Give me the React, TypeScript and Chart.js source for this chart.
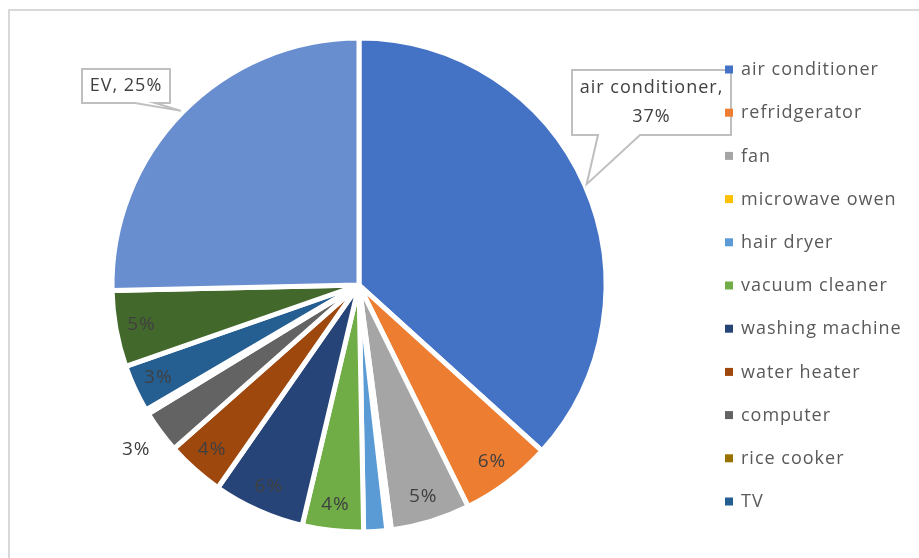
import React, { useEffect, useRef } from "react";
import { Chart, registerables } from "chart.js";

Chart.register(...registerables);

const categories = [
  "air conditioner",
  "refridgerator",
  "fan",
  "microwave owen",
  "hair dryer",
  "vacuum cleaner",
  "washing machine",
  "water heater",
  "computer",
  "rice cooker",
  "TV",
  "other",
  "EV",
];
const values = [36.8, 6, 5.2, 0.3, 1.5, 4, 6, 3.8, 2.8, 0.3, 3.1, 5, 25.4];
const colors = [
  "#4472C4",
  "#ED7D31",
  "#A5A5A5",
  "#FFC000",
  "#5B9BD5",
  "#70AD47",
  "#264478",
  "#9E480E",
  "#636363",
  "#997300",
  "#255E91",
  "#43682B",
  "#698ED0",
];
const legendShown = 11;
const insideLabelIdx = [1, 2, 5, 6, 7, 10, 11];
const outsideLabelIdx = [8];

const FONT = "'Open Sans', 'DejaVu Sans', sans-serif";
const LABEL_COLOR = "#404040";
const LEGEND_COLOR = "#595959";

function pct(i: number) {
  const total = values.reduce((a, b) => a + b, 0);
  return Math.round((values[i] / total) * 100) + "%";
}

const labelsPlugin = {
  id: "excelLabels",
  afterDatasetsDraw(chart: any) {
    const ctx: CanvasRenderingContext2D = chart.ctx;
    const meta = chart.getDatasetMeta(0);
    ctx.save();
    (ctx as any).letterSpacing = "1px";
    ctx.font = `19px ${FONT}`;
    ctx.fillStyle = LABEL_COLOR;
    ctx.textAlign = "center";
    ctx.textBaseline = "middle";
    const pos = (i: number, d: number) => {
      const a: any = meta.data[i];
      const mid = (a.startAngle + a.endAngle) / 2;
      return { x: a.x + Math.cos(mid) * d, y: a.y + Math.sin(mid) * d };
    };
    insideLabelIdx.forEach((i) => {
      const a: any = meta.data[i];
      const p = pos(i, a.outerRadius - 26);
      ctx.fillText(pct(i), p.x, p.y);
    });
    outsideLabelIdx.forEach((i) => {
      const a: any = meta.data[i];
      const p = pos(i, a.outerRadius + 30);
      ctx.fillText(pct(i), p.x, p.y);
    });

    ctx.font = `18px ${FONT}`;
    const drawCallout = (
      i: number,
      box: { l: number; t: number; r: number; b: number },
      tailA: number,
      tailB: number,
      lines: string[]
    ) => {
      const a: any = meta.data[i];
      const tip = pos(i, a.outerRadius + 2);
      ctx.save();
      ctx.beginPath();
      ctx.moveTo(box.l, box.t);
      ctx.lineTo(box.r, box.t);
      ctx.lineTo(box.r, box.b);
      ctx.lineTo(tailB, box.b);
      ctx.lineTo(tip.x, tip.y);
      ctx.lineTo(tailA, box.b);
      ctx.lineTo(box.l, box.b);
      ctx.closePath();
      ctx.fillStyle = "#ffffff";
      ctx.fill();
      ctx.strokeStyle = "#bfbfbf";
      ctx.lineWidth = 2;
      ctx.stroke();
      ctx.restore();
      const cx = (box.l + box.r) / 2;
      const cy = (box.t + box.b) / 2;
      const lh = 29;
      lines.forEach((s, k) => {
        ctx.fillText(s, cx, cy + (k - (lines.length - 1) / 2) * lh);
      });
    };
    drawCallout(12, { l: 82, t: 69, r: 170, b: 103 }, 135, 155, [
      categories[12] + ", " + pct(12),
    ]);
    drawCallout(0, { l: 572, t: 70, r: 731, b: 135 }, 598, 640, [
      categories[0] + ",",
      pct(0),
    ]);
    ctx.restore();
  },
  afterDraw(chart: any) {
    const ctx: CanvasRenderingContext2D = chart.ctx;
    ctx.save();
    (ctx as any).letterSpacing = "1px";
    ctx.font = `18px ${FONT}`;
    ctx.textAlign = "left";
    ctx.textBaseline = "middle";
    for (let i = 0; i < legendShown; i++) {
      const y = 70 + i * 43.2;
      ctx.fillStyle = colors[i];
      ctx.fillRect(725, y - 4.5, 8, 8);
      ctx.fillStyle = LEGEND_COLOR;
      ctx.fillText(categories[i], 741, y);
    }
    ctx.restore();
  },
};

export default function App() {
  const ref = useRef<HTMLCanvasElement | null>(null);
  useEffect(() => {
    if (!ref.current) return;
    const chart = new Chart(ref.current, {
      type: "pie",
      data: {
        labels: categories,
        datasets: [
          {
            data: values,
            backgroundColor: colors,
            borderColor: "#ffffff",
            borderWidth: 5,
            radius: 247,
          } as any,
        ],
      },
      options: {
        responsive: false,
        animation: false,
        devicePixelRatio: 1,
        layout: { padding: { left: 0, right: 201, top: 12, bottom: 0 } },
        plugins: {
          legend: { display: false },
          tooltip: { enabled: false },
          title: { display: false },
        },
      },
      plugins: [labelsPlugin],
    });
    return () => chart.destroy();
  }, []);
  return (
    <div style={{ position: "fixed", left: 0, top: 0, width: 919, height: 558, background: "#fff", overflow: "hidden" }}>
      <div
        style={{
          position: "absolute",
          left: 8,
          top: 9,
          width: 911,
          height: 549,
          borderTop: "2px solid #d9d9d9",
          borderLeft: "2px solid #d9d9d9",
          boxSizing: "border-box",
        }}
      />
      <canvas ref={ref} width={919} height={558} style={{ position: "absolute", left: 0, top: 0 }} />
    </div>
  );
}
